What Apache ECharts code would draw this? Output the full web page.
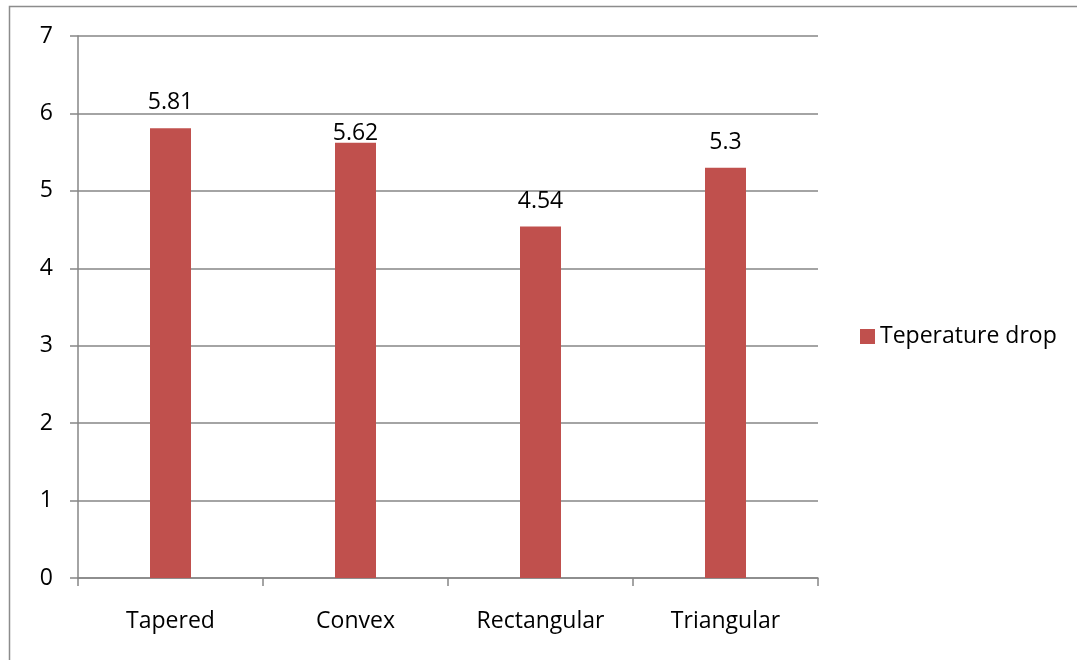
<!DOCTYPE html>
<html>
<head>
<meta charset="utf-8">
<script src="https://cdn.jsdelivr.net/npm/echarts@6/dist/echarts.min.js"></script>
<style>
html,body{margin:0;padding:0;background:#fff;}
#chart{width:1077px;height:660px;}
</style>
</head>
<body>
<div id="chart"></div>
<script>
const categories = ['Tapered', 'Convex', 'Rectangular', 'Triangular'];
const seriesName = 'Teperature drop';
const values = [5.81, 5.62, 4.54, 5.3];
const yTicks = [0, 1, 2, 3, 4, 5, 6, 7];

const chart = echarts.init(document.getElementById('chart'));
const font = '"Open Sans", "Noto Sans", sans-serif';
// label placement per bar (the "Convex" label sits tight on its bar in the original)
const labelDistances = [14, -2, 14, 14];
const barData = values.map((v, i) => ({ value: v, label: { distance: labelDistances[i] } }));

chart.setOption({
  animation: false,
  backgroundColor: '#fff',
  textStyle: { fontFamily: font },
  graphic: [{
    type: 'rect',
    shape: { x: 9.5, y: 6.5, width: 1200, height: 800 },
    style: { fill: 'none', stroke: '#8c8c8c', lineWidth: 1.5 },
    silent: true
  }],
  legend: {
    data: [seriesName],
    orient: 'vertical',
    left: 855,
    top: 320,
    itemWidth: 15,
    itemHeight: 15,
    itemGap: 8,
    icon: 'rect',
    textStyle: { fontSize: 23, color: '#000', fontFamily: font }
  },
  grid: { left: 78, right: 259, top: 36, bottom: 82, containLabel: false },
  xAxis: {
    type: 'category',
    data: categories,
    axisLine: { lineStyle: { color: '#868686', width: 1.5 } },
    axisTick: { show: true, length: 8, lineStyle: { color: '#868686', width: 1.5 } },
    axisLabel: { fontSize: 23, color: '#000', margin: 32, fontFamily: font },
    splitLine: { show: false }
  },
  yAxis: {
    type: 'value',
    min: yTicks[0],
    max: yTicks[yTicks.length - 1],
    interval: 1,
    axisLine: { show: true, lineStyle: { color: '#868686', width: 1.5 } },
    axisTick: { show: true, length: 8, lineStyle: { color: '#868686', width: 1.5 } },
    axisLabel: { fontSize: 23, color: '#000', margin: 25, fontFamily: font },
    splitLine: { show: true, lineStyle: { color: '#868686', width: 1.5 } }
  },
  series: [{
    name: seriesName,
    type: 'bar',
    data: barData,
    barWidth: 41,
    itemStyle: { color: '#C0504D' },
    label: {
      show: true,
      position: 'top',
      distance: 14,
      fontSize: 23,
      color: '#000',
      fontFamily: font
    }
  }]
});
</script>
</body>
</html>
